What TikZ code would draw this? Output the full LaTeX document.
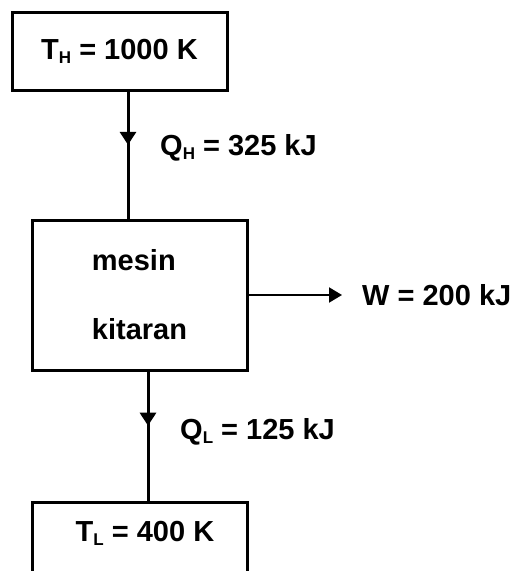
\documentclass[tikz,border=0pt]{standalone}
\usepackage{fontspec}
\setmainfont{Liberation Sans}
\usetikzlibrary{arrows.meta,decorations.markings}
\newcommand{\subidx}[1]{\raisebox{-4pt}{\fontsize{17}{17}\selectfont #1}}
\begin{document}
\begin{tikzpicture}[x=1pt,y=-1pt]

          \tikzstyle{box} = [draw, line width=3pt, minimum width=215pt, inner sep=0pt];
          \tikzstyle{txt} = [font=\fontsize{29}{36}\selectfont\bfseries, inner sep=0pt];
          \tikzstyle{heat} = [line width=3pt, postaction={decorate},
            decoration={markings, mark=at position 0.42 with {\arrow{Triangle[width=16pt,length=13pt]}}}];

          \useasboundingbox (0,0) rectangle (517,571);

          \node[box, txt, minimum height=78pt] (hot) at (119.5,51) {T\subidx{H} = 1000 K};
          \node[box, txt, minimum height=150pt, align=left, font=\fontsize{29}{69}\selectfont\bfseries] (engine) at (139.5,295) {mesin\\kitaran};
          \node[box, minimum height=90pt] (cold) at (139.5,547) {};
          \node[txt] (coldtext) at (145,533) {T\subidx{L} = 400 K};

          \node[txt, anchor=west] (qh) at (160,148) {Q\subidx{H} = 325 kJ};
          \node[txt, anchor=west] (ql) at (180,432) {Q\subidx{L} = 125 kJ};
          \node[txt, anchor=west] (work) at (362,295) {W = 200 kJ};

          \draw[heat] ([xshift=8.5pt]hot.south) -- ([xshift=-11.5pt]engine.north);
          \draw[heat] ([xshift=8.5pt]engine.south) -- ([xshift=8.5pt]cold.north);
          \draw[line width=2pt, -{Triangle[width=15pt,length=13pt]}, shorten >=20pt] (engine.east) -- (work.west);
        \end{tikzpicture}
\end{document}
